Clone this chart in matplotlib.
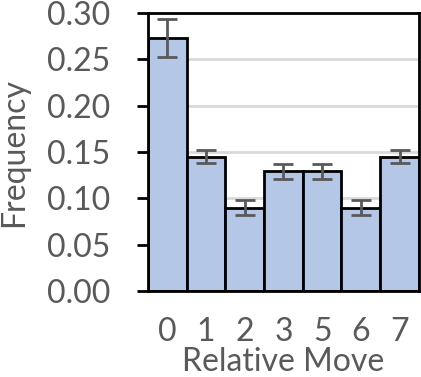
"""Bar chart of relative move frequencies with error bars."""

import matplotlib

matplotlib.use("Agg")
import matplotlib.pyplot as plt

moves = ["0", "1", "2", "3", "5", "6", "7"]
frequency = [0.273, 0.145, 0.090, 0.129, 0.129, 0.090, 0.145]
errors = [0.020, 0.007, 0.008, 0.008, 0.008, 0.008, 0.007]
y_ticks = [0.00, 0.05, 0.10, 0.15, 0.20, 0.25, 0.30]

TEXT = "#595959"
plt.rcParams["font.family"] = ["Lato", "DejaVu Sans"]

fig = plt.figure(figsize=(4.21, 3.77), dpi=100)
ax = fig.add_axes([0.3515, 0.228, 0.6435, 0.7375])

positions = range(len(moves))
ax.bar(
    positions,
    frequency,
    width=1.0,
    color="#B4C7E7",
    edgecolor="black",
    linewidth=2.0,
    zorder=2,
)
ax.errorbar(
    positions,
    frequency,
    yerr=errors,
    fmt="none",
    ecolor="#595959",
    elinewidth=2.0,
    capsize=7,
    capthick=2.0,
    zorder=3,
)

ax.set_xlim(-0.5, len(moves) - 0.5)
ax.set_ylim(0, 0.30)
ax.set_yticks(y_ticks)
ax.set_yticklabels([f"{t:.2f}" for t in y_ticks])
ax.set_xticks(list(positions))
ax.set_xticklabels(moves)

ax.yaxis.grid(True, color="#D9D9D9", linewidth=2.0, zorder=0)
ax.set_axisbelow(True)

for spine in ax.spines.values():
    spine.set_color("black")
    spine.set_linewidth(2.0)

ax.tick_params(axis="y", length=8, width=2.0, colors="black", labelcolor=TEXT,
               labelsize=23, pad=19)
ax.tick_params(axis="x", length=0, labelcolor=TEXT, labelsize=23, pad=19)

ax.set_xlabel("Relative Move", color=TEXT, fontsize=23, labelpad=0)
ax.set_ylabel("Frequency", color=TEXT, fontsize=23, labelpad=13)

fig.savefig("out.png", dpi=100)
plt.close(fig)
